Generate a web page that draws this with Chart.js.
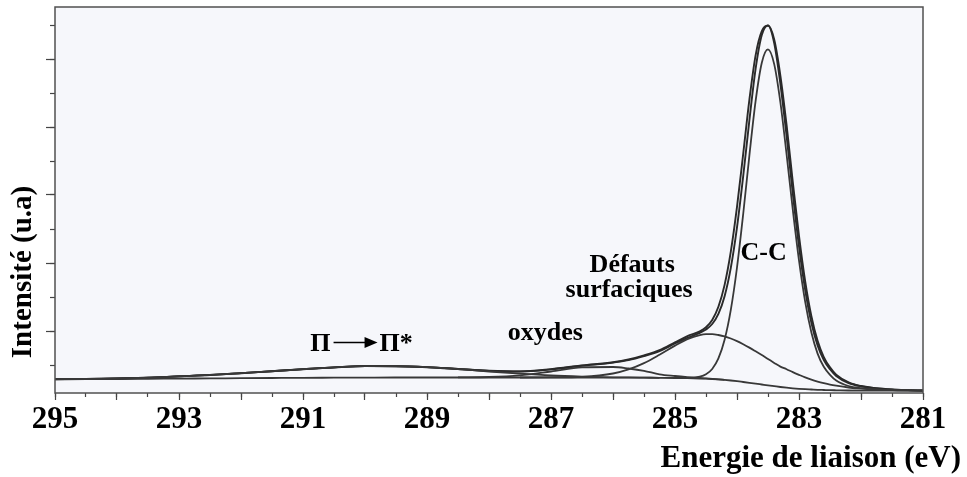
<!DOCTYPE html>
<html>
<head>
<meta charset="utf-8">
<script src="https://cdn.jsdelivr.net/npm/chart.js@4.4.1/dist/chart.umd.min.js"></script>
<style>
  html, body { margin: 0; padding: 0; background: #fff; }
  canvas { display: block; }
</style>
</head>
<body>
<canvas id="xps" width="967" height="477"></canvas>
<script>
// C 1s spectrum: binding energy grid (eV), high to low
const energies = [
  295, 294.5, 294, 293.5, 293, 292.5, 292, 291.5, 291, 290.5, 290, 289.5, 289, 288.5, 288,
  287.5, 287, 286.5, 286, 285.75, 285.5, 285.25, 285, 284.8, 284.6,
  284.5, 284.4, 284.3, 284.2, 284.1, 284.0, 283.9, 283.8, 283.7, 283.6, 283.5,
  283.4, 283.3, 283.2, 283.1, 283.0, 282.9, 282.8, 282.7, 282.6, 282.5, 282.4,
  282.2, 282.0, 281.75, 281.5, 281.25, 281.0
];

// Shirley background (u.a.)
const background = [
  13.7, 13.9, 14.0, 14.2, 14.4, 14.6, 14.8, 15.0, 15.2, 15.3, 15.4, 15.5, 15.5, 15.5, 15.5,
  15.5, 15.5, 15.5, 15.4, 15.4, 15.3, 15.2, 15.0, 14.8, 14.5,
  14.3, 14.0, 13.6, 13.1, 12.5, 11.8, 11.0, 10.2, 9.4, 8.5, 7.6,
  6.8, 6.0, 5.3, 4.7, 4.2, 3.8, 3.5, 3.2, 3.0, 2.8, 2.7,
  2.5, 2.4, 2.3, 2.3, 2.3, 2.3
];

// pi -> pi* shake-up satellite
const piStar = [
  13.8, 14.1, 14.5, 15.4, 16.6, 18.1, 19.8, 21.8, 23.8, 25.6, 26.9, 26.8, 25.8, 23.9, 21.5,
  19.3, 17.5, 16.4, 15.7, 15.6, 15.4, 15.2, null, null, null,
  null, null, null, null, null, null, null, null, null, null, null,
  null, null, null, null, null, null, null, null, null, null, null,
  null, null, null, null, null, null
];

// oxidised carbon
const oxydes = [
  null, null, null, null, null, null, null, null, null, null, null, null, null, 15.6, 16.0,
  17.7, 21.5, 25.6, 26.0, 24.5, 22.2, 18.7, 17.0, 15.9, 15.0,
  14.6, 14.2, 13.7, 13.1, null, null, null, null, null, null, null,
  null, null, null, null, null, null, null, null, null, null, null,
  null, null, null, null, null, null
];

// surface defects
const defauts = [
  null, null, null, null, null, null, null, null, null, null, null, null, null, null, null,
  15.5, 15.6, 16.2, 19.5, 23.6, 29.9, 38.3, 47.4, 53.8, 57.9,
  58.8, 58.8, 58.0, 56.6, 54.5, 51.9, 48.8, 45.4, 41.7, 37.9, 33.9,
  30.1, 26.4, 23.8, 20.9, 18.2, 15.6, 13.3, 11.4, 9.8, 8.4, 7.3,
  5.5, 4.3, 3.4, 2.9, 2.6, 2.4
];

// C-C component
const carbonCC = [
  null, null, null, null, null, null, null, null, null, null, null, null, null, null, null,
  null, null, null, null, null, null, null, 15.0, 15.0, 16.3,
  18.7, 24.0, 34.6, 53.3, 83.1, 125.5, 179.0, 237.7, 291.9, 330.3, 343.6,
  328.9, 290.5, 238.5, 183.3, 132.6, 91.2, 60.5, 39.4, 26.2, 18.2, 12.5,
  7.0, 4.8, 3.5, 2.9, 2.6, 2.4
];

// fit envelope
const envelope = [
  13.8, 14.1, 14.5, 15.4, 16.6, 18.1, 19.8, 21.8, 23.8, 25.6, 26.9, 26.8, 25.8, 24.0, 22.0,
  21.5, 23.6, 27.2, 30.4, 32.9, 36.9, 41.8, 49.5, 55.1, 60.2,
  63.5, 69.0, 79.1, 96.8, 125.1, 165.6, 216.8, 272.9, 324.2, 358.0, 367.5,
  350.0, 309.0, 257.0, 199.5, 146.6, 103.0, 70.3, 47.6, 33.0, 23.8, 17.1,
  10.0, 6.7, 4.6, 3.5, 2.9, 2.5
];

// measured spectrum
const experimental = [
  13.9, 14.0, 14.6, 15.3, 16.7, 18.0, 19.9, 21.7, 23.9, 25.5, 27.0, 26.7, 25.9, 24.1, 22.3,
  21.6, 23.9, 27.6, 30.8, 33.5, 37.6, 42.8, 50.6, 56.8, 61.6,
  65.7, 73.0, 86.2, 108.1, 141.3, 186.1, 239.2, 293.4, 337.7, 361.8, 367.5,
  353.5, 317.2, 267.8, 211.0, 157.2, 111.7, 76.8, 52.1, 35.9, 25.6, 18.4,
  10.7, 7.0, 4.7, 3.5, 2.9, 2.5
];

const xLabels = [295, 293, 291, 289, 287, 285, 283, 281];
const yTicksLong = [62, 130, 198, 266, 334];
const yTicksShort = [28, 62, 96, 130, 164, 198, 232, 266, 300, 334, 368];

// peak labels: text, energy (eV), baseline height (u.a.)
const annotations = [
  { text: 'C-C', x: 283.57, y: 133 },
  { text: 'Défauts', x: 285.69, y: 121 },
  { text: 'surfaciques', x: 285.74, y: 96 },
  { text: 'oxydes', x: 287.09, y: 53 }
];
// transition label "Π → Π*", centred on the satellite
const transition = { from: 'Π', to: 'Π*', x: 290.12, y: 42 };

const serif = '"Liberation Serif", "Times New Roman", serif';
const lineColor = '#383838';

function points(values) {
  return energies
    .map((e, i) => ({ x: e, y: values[i] }))
    .filter(p => p.y !== null);
}

function series(label, values, width, color) {
  return {
    label: label,
    data: points(values),
    borderColor: color || lineColor,
    borderWidth: width,
    pointRadius: 0,
    fill: false,
    cubicInterpolationMode: 'monotone'
  };
}

const textLayer = {
  id: 'textLayer',
  beforeDraw(chart) {
    const { ctx, chartArea: a } = chart;
    ctx.save();
    ctx.fillStyle = '#f6f7fb';
    ctx.fillRect(a.left, a.top, a.right - a.left, a.bottom - a.top);
    ctx.restore();
  },
  afterDraw(chart) {
    const { ctx, chartArea: a, scales } = chart;
    ctx.save();
    // frame
    ctx.strokeStyle = '#505050';
    ctx.lineWidth = 1.5;
    ctx.strokeRect(a.left, a.top, a.right - a.left, a.bottom - a.top);

    // peak labels
    ctx.fillStyle = '#000';
    ctx.font = 'bold 26px ' + serif;
    ctx.textAlign = 'center';
    ctx.textBaseline = 'alphabetic';
    annotations.forEach(n => {
      ctx.fillText(n.text, scales.x.getPixelForValue(n.x), scales.y.getPixelForValue(n.y));
    });

    // Π → Π* with a solid-headed arrow
    const cx = scales.x.getPixelForValue(transition.x);
    const by = scales.y.getPixelForValue(transition.y);
    ctx.textAlign = 'right';
    ctx.fillText(transition.from, cx - 27, by);
    ctx.textAlign = 'left';
    ctx.fillText(transition.to, cx + 22, by);
    const ay = by - 8.5;
    ctx.strokeStyle = '#000';
    ctx.lineWidth = 1.6;
    ctx.beginPath();
    ctx.moveTo(cx - 24, ay);
    ctx.lineTo(cx + 10, ay);
    ctx.stroke();
    ctx.beginPath();
    ctx.moveTo(cx + 7, ay - 5.5);
    ctx.lineTo(cx + 20, ay);
    ctx.lineTo(cx + 7, ay + 5.5);
    ctx.closePath();
    ctx.fill();

    // axis titles
    ctx.font = 'bold 31px ' + serif;
    ctx.textAlign = 'right';
    ctx.fillText('Energie de liaison (eV)', 961, 467);

    ctx.font = 'bold 29px ' + serif;
    ctx.translate(31, 272);
    ctx.rotate(-Math.PI / 2);
    ctx.textAlign = 'center';
    ctx.fillText('Intensité (u.a)', 0, 0);
    ctx.restore();
  }
};

new Chart(document.getElementById('xps'), {
  type: 'line',
  data: {
    datasets: [
      series('Fond', background, 1.8),
      series('Π → Π*', piStar, 1.8),
      series('oxydes', oxydes, 1.8),
      series('Défauts surfaciques', defauts, 1.8),
      series('C-C', carbonCC, 1.8),
      series('Enveloppe', envelope, 1.9, '#2a2a2a'),
      series('Expérience', experimental, 1.9, '#2a2a2a')
    ]
  },
  options: {
    responsive: false,
    animation: false,
    devicePixelRatio: 1,
    layout: { padding: { top: 7, right: 44, left: 0, bottom: 0 } },
    plugins: {
      legend: { display: false },
      tooltip: { enabled: false }
    },
    scales: {
      x: {
        type: 'linear',
        position: 'bottom',
        reverse: true,
        min: 281,
        max: 295,
        weight: 1,
        ticks: {
          stepSize: 1,
          autoSkip: false,
          maxRotation: 0,
          padding: 1,
          color: '#000',
          font: { family: serif, size: 31, weight: 'bold' },
          callback: v => (xLabels.includes(v) ? String(v) : '')
        },
        grid: { drawOnChartArea: false, tickLength: 7, tickColor: '#444', tickWidth: 1.2 },
        border: { display: false },
        afterFit: s => { s.height = 84; }
      },
      xHalf: {
        type: 'linear',
        position: 'bottom',
        reverse: true,
        min: 281,
        max: 295,
        weight: 0,
        ticks: { stepSize: 0.5, display: false },
        grid: { drawOnChartArea: false, tickLength: 4, tickColor: '#444', tickWidth: 1.2 },
        border: { display: false },
        afterFit: s => { s.height = 0; }
      },
      y: {
        type: 'linear',
        position: 'left',
        min: 0,
        max: 386,
        weight: 1,
        ticks: { display: false },
        afterBuildTicks: s => { s.ticks = yTicksLong.map(v => ({ value: v })); },
        grid: { drawOnChartArea: false, tickLength: 9, tickColor: '#444', tickWidth: 1.2 },
        border: { display: false },
        afterFit: s => { s.width = 55; }
      },
      yHalf: {
        type: 'linear',
        position: 'left',
        min: 0,
        max: 386,
        weight: 0,
        ticks: { display: false },
        afterBuildTicks: s => { s.ticks = yTicksShort.map(v => ({ value: v })); },
        grid: { drawOnChartArea: false, tickLength: 5, tickColor: '#444', tickWidth: 1.2 },
        border: { display: false },
        afterFit: s => { s.width = 0; }
      }
    }
  },
  plugins: [textLayer]
});
</script>
</body>
</html>
